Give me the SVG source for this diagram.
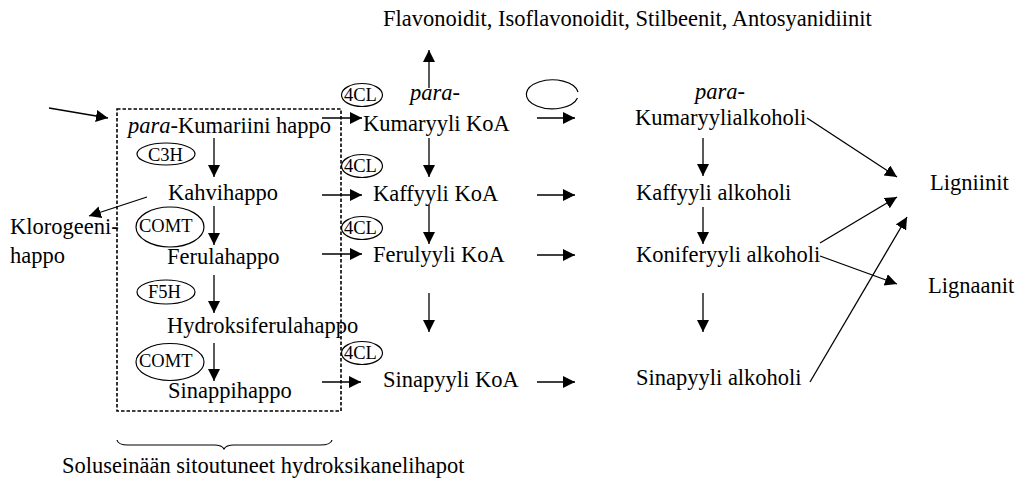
<svg xmlns="http://www.w3.org/2000/svg" width="1017" height="489" viewBox="0 0 1017 489">
  <style>
    text { font-family: "Liberation Serif", "Times New Roman", serif; font-size: 22.5px; fill: #000; }
    .enz { font-size: 18.5px; }
    .it { font-style: italic; }
    .ell { fill: none; stroke: #000; stroke-width: 1.2; }
    .arr { fill: none; stroke: #000; stroke-width: 1.3; marker-end: url(#head); }
    .line { fill: none; stroke: #000; stroke-width: 1.2; }
    .box { fill: none; stroke: #000; stroke-width: 1.6; stroke-dasharray: 3.5 2; }
  </style>
  <defs>
    <marker id="head" markerUnits="userSpaceOnUse" markerWidth="13" markerHeight="13" refX="12" refY="6" orient="auto">
      <path d="M0,0 L12,6 L0,12 z" fill="#000"/>
    </marker>
  </defs>

  <!-- cell-wall bound hydroxycinnamic acids -->
  <rect id="wall-box" class="box" x="117" y="109" width="224" height="302"/>
  <g id="brace">
    <path class="line" d="M117,440 Q118,445 128,445 L214,445 Q222,445 224,449 Q226,445 234,445 L320,445 Q331,445 332,440"/>
    <text x="62" y="473">Soluseinään sitoutuneet hydroksikanelihapot</text>
  </g>

  <!-- acids -->
  <g id="p-kumariini"><text x="128" y="133"><tspan class="it">para</tspan>-Kumariini happo</text></g>
  <g id="kahvihappo"><text x="168" y="200">Kahvihappo</text></g>
  <g id="ferulahappo"><text x="167" y="264">Ferulahappo</text></g>
  <g id="hydroksiferulahappo"><text x="167" y="333">Hydroksiferulahappo</text></g>
  <g id="sinappihappo"><text x="168" y="398">Sinappihappo</text></g>
  <g id="klorogeenihappo"><text x="10" y="234">Klorogeeni-</text><text x="10" y="263">happo</text></g>

  <!-- enzymes -->
  <g id="c3h"><ellipse class="ell" cx="166" cy="154" rx="29" ry="11"/><text class="enz" x="148" y="160.5">C3H</text></g>
  <g id="comt1"><ellipse class="ell" cx="170" cy="227" rx="34" ry="20"/><text class="enz" x="139" y="232">COMT</text></g>
  <g id="f5h"><ellipse class="ell" cx="166" cy="292" rx="29" ry="12"/><text class="enz" x="148" y="298">F5H</text></g>
  <g id="comt2"><ellipse class="ell" cx="170" cy="362" rx="34" ry="18.5"/><text class="enz" x="139" y="367">COMT</text></g>
  <g id="fourcl1"><ellipse class="ell" cx="362" cy="95" rx="20.5" ry="11.5"/><text class="enz" x="344" y="101">4CL</text></g>
  <g id="fourcl2"><ellipse class="ell" cx="362" cy="166" rx="20.5" ry="11.5"/><text class="enz" x="344" y="172">4CL</text></g>
  <g id="fourcl3"><ellipse class="ell" cx="362" cy="228" rx="20.5" ry="11.5"/><text class="enz" x="344" y="234">4CL</text></g>
  <g id="fourcl4"><ellipse class="ell" cx="362" cy="353" rx="20.5" ry="11.5"/><text class="enz" x="344" y="359">4CL</text></g>
  <g id="cycle"><path class="ell" d="M577.5,98 A26,14.5 0 1 1 578,92"/></g>

  <!-- CoA esters -->
  <g id="flavonoidit"><text x="383" y="26">Flavonoidit, Isoflavonoidit, Stilbeenit, Antosyanidiinit</text></g>
  <g id="kumaryyli-koa"><text class="it" x="410" y="100">para-</text><text x="363" y="131">Kumaryyli KoA</text></g>
  <g id="kaffyyli-koa"><text x="373" y="201">Kaffyyli KoA</text></g>
  <g id="ferulyyli-koa"><text x="373" y="262">Ferulyyli KoA</text></g>
  <g id="sinapyyli-koa"><text x="383" y="387">Sinapyyli KoA</text></g>

  <!-- alcohols -->
  <g id="kumaryylialkoholi"><text class="it" x="695" y="99">para-</text><text x="635" y="125">Kumaryylialkoholi</text></g>
  <g id="kaffyyli-alkoholi"><text x="636" y="200">Kaffyyli alkoholi</text></g>
  <g id="koniferyyli-alkoholi"><text x="636" y="262">Koniferyyli alkoholi</text></g>
  <g id="sinapyyli-alkoholi"><text x="636" y="385">Sinapyyli alkoholi</text></g>
  <g id="ligniinit"><text x="930" y="190">Ligniinit</text></g>
  <g id="lignaanit"><text x="928" y="293">Lignaanit</text></g>

  <!-- connectors -->
  <g id="connectors">
    <line class="arr" x1="49" y1="108" x2="108" y2="118"/>
    <line class="arr" x1="214" y1="138" x2="214" y2="177"/>
    <line class="arr" x1="147" y1="197" x2="89" y2="216"/>
    <line class="arr" x1="214" y1="206" x2="214" y2="245"/>
    <line class="arr" x1="214" y1="275" x2="214" y2="313"/>
    <line class="arr" x1="214" y1="343" x2="214" y2="381"/>

    <line class="arr" x1="322" y1="118" x2="362" y2="118"/>
    <line class="arr" x1="322" y1="195" x2="362" y2="195"/>
    <line class="arr" x1="322" y1="254" x2="362" y2="254"/>
    <line class="arr" x1="322" y1="382" x2="361" y2="382"/>

    <line class="arr" x1="429" y1="88" x2="429" y2="50"/>
    <line class="arr" x1="429" y1="138" x2="429" y2="177"/>
    <line class="arr" x1="429" y1="205" x2="429" y2="244"/>
    <line class="arr" x1="429" y1="293" x2="429" y2="332"/>

    <line class="arr" x1="537" y1="118" x2="575" y2="118"/>
    <line class="arr" x1="537" y1="195" x2="575" y2="195"/>
    <line class="arr" x1="537" y1="255" x2="575" y2="255"/>
    <line class="arr" x1="537" y1="382" x2="575" y2="382"/>

    <line class="arr" x1="703" y1="138" x2="703" y2="176"/>
    <line class="arr" x1="703" y1="207" x2="703" y2="244"/>
    <line class="arr" x1="703" y1="293" x2="703" y2="332"/>

    <line class="arr" x1="807" y1="118" x2="897" y2="177"/>
    <line class="arr" x1="820" y1="243" x2="897" y2="197"/>
    <line class="arr" x1="820" y1="256" x2="897" y2="284"/>
    <line class="arr" x1="810" y1="382" x2="907" y2="217"/>
  </g>
</svg>
